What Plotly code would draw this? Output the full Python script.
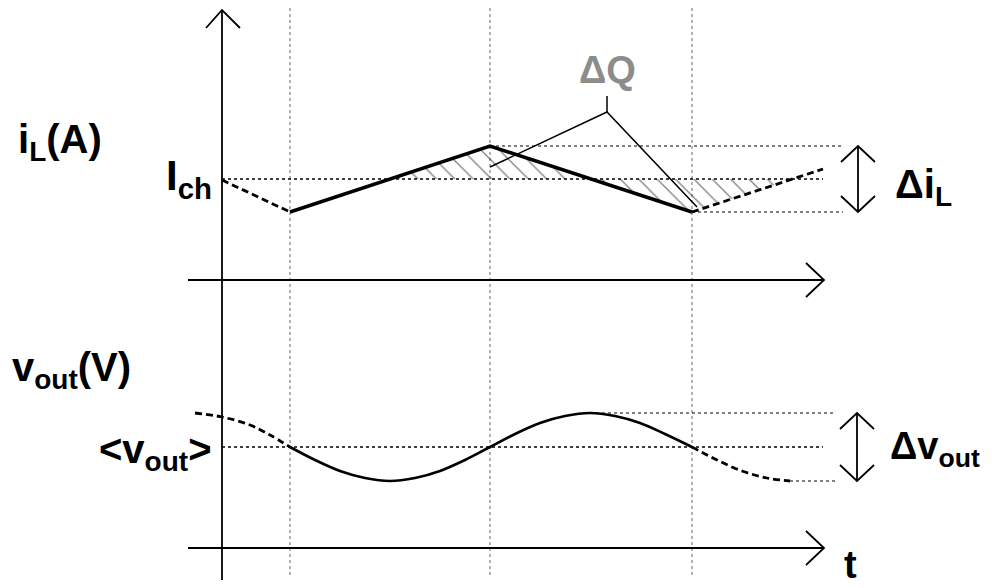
"""Buck converter inductor current / output ripple diagram."""
import numpy as np
import plotly.graph_objects as go

# switching instants (diagram px)
t_edges = [290, 490, 692]

# inductor current waveform
il_x = [222, 290, 490, 692, 823]
il_y = [180, 212, 146, 212, 169]
i_ch = 179

# output voltage waveform
vout_x = [195, 222, 250, 270, 290, 315, 340, 365, 390, 415, 440, 465, 490,
          515, 540, 565, 590, 615, 640, 665, 692, 717, 742, 767, 790]
vout_y = [413, 417, 425, 435, 447, 460, 471, 478, 481, 478, 471, 460, 447,
          434, 423, 416, 413, 416, 423, 434, 447, 460, 471, 478, 481]
v_avg = 447
v_max = 413
v_min = 481

BLACK = "#000000"
FONT = "Liberation Sans, Arial, sans-serif"
DASH = "7px,4px"

fig = go.Figure()


def line(xs, ys, width=2, dash="solid", color=BLACK):
    fig.add_trace(go.Scatter(x=xs, y=ys, mode="lines", hoverinfo="skip",
                             line=dict(color=color, width=width, dash=dash)))


# gray dotted time markers
for t in t_edges:
    line([t, t], [8, 578], width=1.5, dash="dot", color="#9a9a9a")

# hatched charge areas
x_up = np.interp(i_ch, [il_y[2], il_y[1]], [il_x[2], il_x[1]])
x_dn = np.interp(i_ch, [il_y[2], il_y[3]], [il_x[2], il_x[3]])
x_up2 = np.interp(i_ch, [il_y[4], il_y[3]], [il_x[4], il_x[3]])
for px, py in [([x_up, il_x[2], x_dn], [i_ch, il_y[2], i_ch]),
               ([x_dn, il_x[3], x_up2], [i_ch, il_y[3], i_ch])]:
    fig.add_trace(go.Scatter(
        x=px + [px[0]], y=py + [py[0]], mode="lines", fill="toself",
        line=dict(width=0), fillcolor="rgba(0,0,0,0)", hoverinfo="skip",
        fillpattern=dict(shape="\\", fgcolor=BLACK, bgcolor="rgba(0,0,0,0)",
                         size=13, solidity=0.1),
    ))

# reference dotted lines
line([222, 823], [i_ch, i_ch], width=1.3, dash="dot")
line([il_x[2], 843], [il_y[2], il_y[2]], width=1, dash="dot")
line([il_x[3], 843], [il_y[3], il_y[3]], width=1, dash="dot")
line([222, 823], [v_avg, v_avg], width=1.3, dash="dot")
line([590, 836], [v_max, v_max], width=1, dash="dot")
line([790, 836], [v_min, v_min], width=1, dash="dot")

# inductor current
line(il_x[:2], il_y[:2], width=2.8, dash=DASH)
line(il_x[1:4], il_y[1:4], width=3.5)
line(il_x[3:], il_y[3:], width=2.8, dash=DASH)

# output voltage
i0, i1 = vout_x.index(t_edges[0]), vout_x.index(t_edges[2])
fig.add_trace(go.Scatter(x=vout_x[:i0 + 1], y=vout_y[:i0 + 1], mode="lines",
                         line=dict(color=BLACK, width=2.8, dash=DASH, shape="spline"),
                         hoverinfo="skip"))
fig.add_trace(go.Scatter(x=vout_x[i0:i1 + 1], y=vout_y[i0:i1 + 1], mode="lines",
                         line=dict(color=BLACK, width=2.6, shape="spline"),
                         hoverinfo="skip"))
fig.add_trace(go.Scatter(x=vout_x[i1:], y=vout_y[i1:], mode="lines",
                         line=dict(color=BLACK, width=2.8, dash=DASH, shape="spline"),
                         hoverinfo="skip"))

# axes with open arrow heads
line([222, 222], [580, 10], width=1.8)
line([206, 222, 240], [28, 10, 28], width=1.8)
for ya in [280, 548]:
    line([188, 824], [ya, ya], width=1.8)
    line([806, 824, 806], [ya - 17, ya, ya + 17], width=1.8)

# ripple double arrows
for xa, y0, y1 in [(858, il_y[2], il_y[3]), (857, v_max, v_min)]:
    line([xa, xa], [y0, y1], width=1.8)
    line([xa - 17, xa, xa + 17], [y0 + 16, y0, y0 + 16], width=1.8)
    line([xa - 17, xa, xa + 17], [y1 - 16, y1, y1 - 16], width=1.8)

# delta Q leader lines
line([607, 607], [96, 112], width=1.5)
line([il_x[2], 607, 697], [167, 112, 207], width=1.5)


def label(x, y, text, size=40, color=BLACK, anchor="left"):
    fig.add_annotation(x=x, y=y, xref="x", yref="y", text=f"<b>{text}</b>",
                       showarrow=False, xanchor=anchor, yanchor="middle",
                       font=dict(family=FONT, size=size, color=color))


label(16, 142, "i<sub>L</sub>(A)")
label(214, 178, "I<sub>ch</sub>", size=42, anchor="right")
label(893, 187, "Δi<sub>L</sub>")
label(607, 70, "ΔQ", size=38, color="#8c8c8c", anchor="center")
label(10, 370, "v<sub>out</sub>(V)")
label(214, 452, "&lt;v<sub>out</sub>&gt;", anchor="right")
label(888, 449, "Δv<sub>out</sub>", size=38)
label(850, 565, "t", size=38, anchor="center")

fig.update_layout(
    width=984, height=580,
    margin=dict(l=0, r=0, t=0, b=0),
    paper_bgcolor="white", plot_bgcolor="white",
    showlegend=False,
    xaxis=dict(range=[8, 992], visible=False, fixedrange=True),
    yaxis=dict(range=[588, 8], visible=False, fixedrange=True),
)

fig.write_html("out.html")
